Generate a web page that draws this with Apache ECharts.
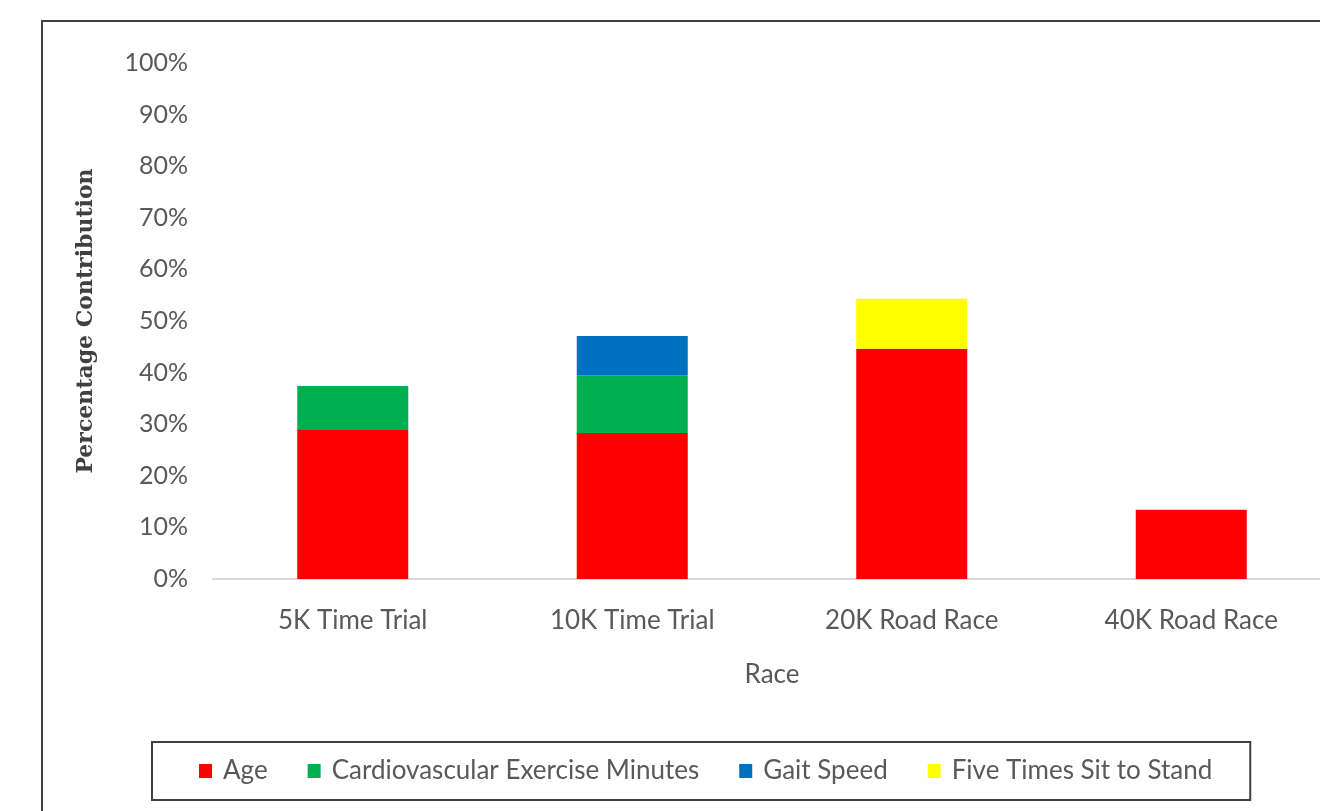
<!DOCTYPE html>
<html>
<head>
<meta charset="utf-8">
<script src="https://cdn.jsdelivr.net/npm/echarts@6/dist/echarts.min.js"></script>
<style>
html, body { margin: 0; padding: 0; background: #fff; overflow: hidden; }
#chart { width: 1340px; height: 811px; }
</style>
</head>
<body>
<div id="chart"></div>
<script>
// races on the x axis
var races = ["5K Time Trial", "10K Time Trial", "20K Road Race", "40K Road Race"];

// percentage contribution per factor
var ageVals = [28.9, 28.3, 44.6, 13.4];
var cardioVals = [8.5, 11.2, "-", "-"];
var gaitVals = ["-", 7.6, "-", "-"];
var sitStandVals = ["-", "-", 9.7, "-"];

var seriesNames = ["Age", "Cardiovascular Exercise Minutes", "Gait Speed", "Five Times Sit to Stand"];
var seriesColors = ["#FF0000", "#00B050", "#0070C0", "#FFFF00"];

var font = "Lato, 'Liberation Sans', sans-serif";

function makeSeries(name, data, color){
	return {
		name : name,
		type : "bar",
		stack : "total",
		barWidth : 111,
		data : data,
		itemStyle : { color : color },
		emphasis : { disabled : true }
	};
}

var voChart = echarts.init(document.getElementById("chart"));

// chart div is a bit wider than the window: the plot runs past the right edge
var options = {
	animation : false,
	grid : {
		left : 213,
		top : 63,
		bottom : 232,
		right : 9
	},
	legend : {
		left : 152,
		top : 742,
		padding : [16, 38, 16, 47],
		borderColor : "#404040",
		borderWidth : 2,
		itemGap : 40,
		itemWidth : 13,
		itemHeight : 14,
		icon : "rect",
		textStyle : { fontFamily : font, fontSize : 26, color : "#595959", padding : [0, 0, 0, 6] },
		data : seriesNames
	},
	xAxis : {
		type : "category",
		data : races,
		name : "Race",
		nameLocation : "middle",
		nameGap : 83,
		nameTextStyle : { fontFamily : font, fontSize : 26, color : "#595959", verticalAlign : "top" },
		axisLine : { lineStyle : { color : "#d9d9d9", width : 2 } },
		axisTick : { show : false },
		axisLabel : { margin : 29, fontFamily : font, fontSize : 26, color : "#595959" }
	},
	yAxis : {
		type : "value",
		min : 0,
		max : 100,
		interval : 10,
		name : "Percentage Contribution",
		nameLocation : "middle",
		nameRotate : 90,
		nameGap : 116,
		nameTextStyle : { fontFamily : "'DejaVu Serif', serif", fontWeight : "bold", fontSize : 22, color : "#404040" },
		splitLine : { show : false },
		axisLine : { show : false },
		axisTick : { show : false },
		axisLabel : { margin : 25, fontFamily : font, fontSize : 25, color : "#595959", formatter : "{value}%" }
	},
	graphic : [
		{
			type : "rect",
			shape : { x : 42, y : 21, width : 1320, height : 820 },
			style : { fill : null, stroke : "#404040", lineWidth : 2 },
			silent : true
		}
	],
	series : [
		makeSeries(seriesNames[0], ageVals, seriesColors[0]),
		makeSeries(seriesNames[1], cardioVals, seriesColors[1]),
		makeSeries(seriesNames[2], gaitVals, seriesColors[2]),
		makeSeries(seriesNames[3], sitStandVals, seriesColors[3])
	]
};

voChart.setOption(options);
</script>
</body>
</html>
